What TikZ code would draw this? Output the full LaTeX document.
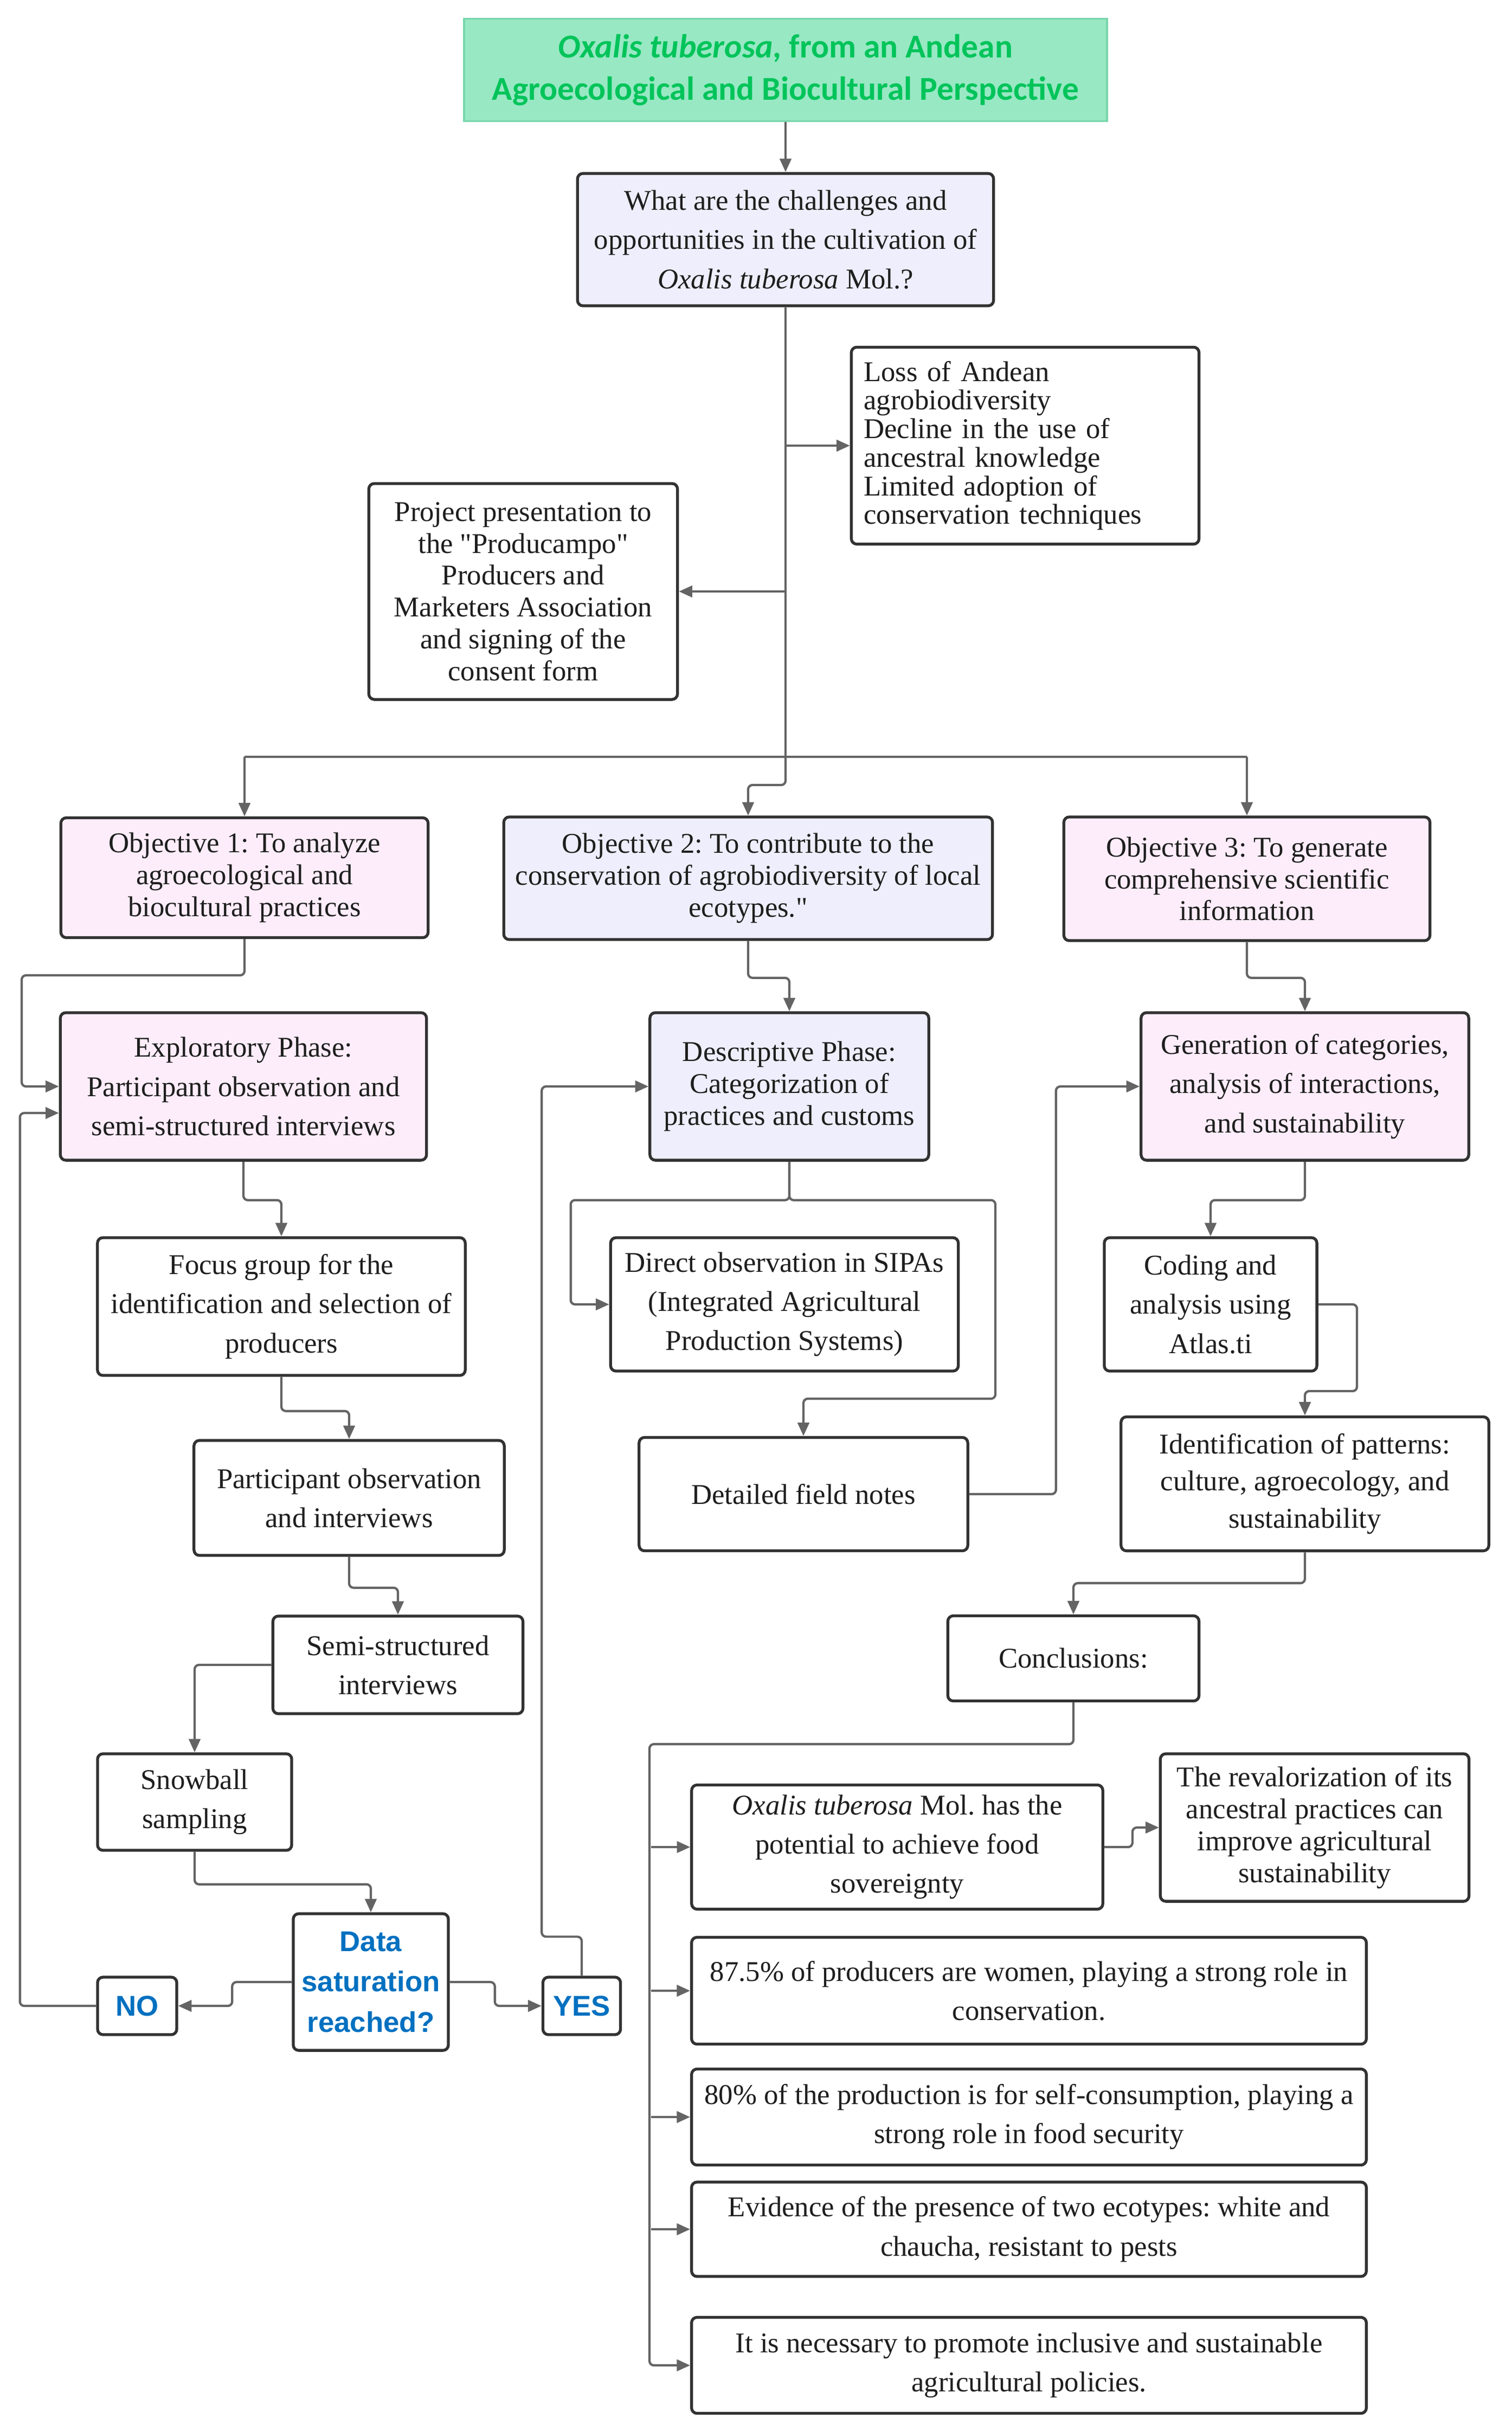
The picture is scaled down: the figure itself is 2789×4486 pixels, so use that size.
\documentclass[tikz,border=0pt]{standalone}
\usepackage{fontspec}
\setmainfont{Liberation Serif}[Ligatures=TeXOff]
\newfontfamily\titlefont{Carlito}
\newfontfamily\sansbold{Liberation Sans}
\usetikzlibrary{arrows.meta,calc}
\definecolor{lavfill}{RGB}{238,238,252}
\definecolor{pinkfill}{RGB}{253,237,250}
\definecolor{titlefill}{RGB}{152,232,196}
\definecolor{titleline}{RGB}{120,214,170}
\definecolor{titletext}{RGB}{0,196,90}
\definecolor{bluetext}{RGB}{0,112,192}
\definecolor{linec}{RGB}{100,100,100}
\definecolor{boxline}{RGB}{50,50,50}
\definecolor{textc}{RGB}{30,30,30}
\frenchspacing
\begin{document}
\begin{tikzpicture}[x=0.01cm,y=-0.01cm,
  box/.style={draw=boxline, line width=1.5pt, rounded corners=0.1cm, fill=white,
    align=center, inner sep=0pt, text=textc, font=\fontsize{15}{20.5}\selectfont},
  tight/.style={font=\fontsize{15}{16.7}\selectfont},
  lav/.style={fill=lavfill},
  pink/.style={fill=pinkfill},
  yn/.style={text=bluetext, font=\sansbold\bfseries\fontsize{15}{21.3}\selectfont},
  conn/.style={draw=linec, line width=1.2pt, rounded corners=0.08cm},
  arr/.style={conn, -{Triangle[length=7pt,width=6pt]}},
]
\useasboundingbox (0,0) rectangle (2789,4486);

% title
\node[draw=titleline, line width=1pt, fill=titlefill, minimum width=11.85cm, minimum height=1.89cm,
  align=center, text=titletext, font=\titlefont\bfseries\fontsize{17.5}{22}\selectfont]
  (title) at (1449,129) {\textit{Oxalis tuberosa}, from an Andean\\Agroecological and Biocultural Perspective};

\node[box, lav, minimum width=7.67cm, minimum height=2.44cm] (q) at (1449,442)
  {What are the challenges and\\opportunities in the cultivation of\\\textit{Oxalis tuberosa} Mol.?};

\node[box, font=\fontsize{15}{15}\selectfont, align=left, text width=5.95cm, inner xsep=0.23cm,
  minimum width=6.41cm, minimum height=3.63cm] (loss) at (1891,822)
  {Loss of Andean\\agrobiodiversity\\Decline in the use of\\ancestral knowledge\\Limited adoption of\\conservation techniques};

\node[box, tight, minimum width=5.69cm, minimum height=3.98cm] (proj) at (965,1091)
  {Project presentation to\\the "Producampo"\\Producers and\\Marketers Association\\and signing of the\\consent form};

% objectives
\node[box, pink, tight, minimum width=6.77cm, minimum height=2.21cm] (obj1) at (451,1619)
  {Objective 1: To analyze\\agroecological and\\biocultural practices};
\node[box, lav, tight, minimum width=9.01cm, minimum height=2.26cm] (obj2) at (1380,1620)
  {Objective 2: To contribute to the\\conservation of agrobiodiversity of local\\ecotypes."};
\node[box, pink, tight, minimum width=6.75cm, minimum height=2.28cm] (obj3) at (2300,1621)
  {Objective 3: To generate\\comprehensive scientific\\information};

% phases
\node[box, pink, minimum width=6.75cm, minimum height=2.72cm] (expl) at (449,2004)
  {Exploratory Phase:\\Participant observation and\\semi-structured interviews};
\node[box, lav, tight, minimum width=5.14cm, minimum height=2.72cm] (desc) at (1456,2004)
  {Descriptive Phase:\\Categorization of\\practices and customs};
\node[box, pink, minimum width=6.04cm, minimum height=2.72cm] (gen) at (2407,2004)
  {Generation of categories,\\analysis of interactions,\\and sustainability};

% left column
\node[box, minimum width=6.78cm, minimum height=2.54cm] (focus) at (519,2410)
  {Focus group for the\\identification and selection of\\producers};
\node[box, minimum width=5.72cm, minimum height=2.12cm] (po) at (644,2763)
  {Participant observation\\and interviews};
\node[box, minimum width=4.61cm, minimum height=1.80cm] (semi) at (734,3071)
  {Semi-structured\\interviews};
\node[box, minimum width=3.58cm, minimum height=1.78cm] (snow) at (359,3324)
  {Snowball\\sampling};
\node[box, yn, minimum width=2.86cm, minimum height=2.52cm] (data) at (684,3656)
  {Data\\saturation\\reached?};
\node[box, yn, minimum width=1.46cm, minimum height=1.06cm] (no) at (253,3700) {NO};
\node[box, yn, minimum width=1.43cm, minimum height=1.06cm] (yes) at (1073,3700) {YES};

% middle column
\node[box, minimum width=6.41cm, minimum height=2.46cm] (direct) at (1447,2406)
  {Direct observation in SIPAs\\(Integrated Agricultural\\Production Systems)};
\node[box, minimum width=6.06cm, minimum height=2.09cm] (detailed) at (1482,2756)
  {Detailed field notes};

% right column
\node[box, minimum width=3.92cm, minimum height=2.46cm] (coding) at (2233,2406)
  {Coding and\\analysis using\\Atlas.ti};
\node[box, font=\fontsize{15}{19.5}\selectfont, minimum width=6.78cm, minimum height=2.47cm] (ident) at (2407,2737)
  {Identification of patterns:\\culture, agroecology, and\\sustainability};
\node[box, minimum width=4.63cm, minimum height=1.57cm] (concl) at (1980,3059)
  {Conclusions:};

% conclusions
\node[box, minimum width=7.58cm, minimum height=2.29cm] (ox) at (1655,3407)
  {\textit{Oxalis tuberosa} Mol. has the\\potential to achieve food\\sovereignty};
\node[box, tight, minimum width=5.69cm, minimum height=2.72cm] (reval) at (2425,3371)
  {The revalorization of its\\ancestral practices can\\improve agricultural\\sustainability};
\node[box, minimum width=12.44cm, minimum height=1.97cm] (p875) at (1898,3672)
  {87.5\% of producers are women, playing a strong role in\\conservation.};
\node[box, minimum width=12.44cm, minimum height=1.77cm] (p80) at (1898,3905)
  {80\% of the production is for self-consumption, playing a\\strong role in food security};
\node[box, minimum width=12.44cm, minimum height=1.74cm] (evid) at (1898,4112)
  {Evidence of the presence of two ecotypes: white and\\chaucha, resistant to pests};
\node[box, minimum width=12.44cm, minimum height=1.77cm] (nec) at (1898,4363)
  {It is necessary to promote inclusive and sustainable\\agricultural policies.};

% connectors
\coordinate (hub) at (1449,1396);
\coordinate (spine) at (1201,3300);
\draw[arr] (title) -- (q);
\draw[conn] (q.south) -- (hub);
\draw[arr] (q.south |- loss.west) -- (loss.west);
\draw[arr] (q.south |- proj.east) -- (proj.east);
\draw[conn] (obj1.north |- hub) -- (obj3.north |- hub);
\draw[arr] (obj1.north |- hub) -- (obj1.north);
\draw[arr] (obj3.north |- hub) -- (obj3.north);
\draw[arr] (hub) -- ++(0,52) -| (obj2.north);

\draw[arr] (obj1.south) |- (40,1799) |- (expl.west);
\draw[arr] (obj2.south) -- ++(0,68) -| (desc.north);
\draw[arr] (obj3.south) -- ++(0,66) -| (gen.north);

\draw[arr] (expl.south) -- ++(0,71) -| (focus.north);
\draw[arr] (focus.south) -- ++(0,63) -| (po.north);
\draw[arr] (po.south) -- ++(0,57) -| (semi.north);
\draw[arr] (semi.west) -| (snow.north);
\draw[arr] (snow.south) -- ++(0,60) -| (data.north);
\draw[arr] (data.west) -- ++(-110,0) |- (no.east);
\draw[arr] (data.east) -- ++(83,0) |- (yes.west);
\draw[arr] (no.west) -| ($(expl.west)+(-72,49)$) -- ($(expl.west)+(0,49)$);
\draw[arr] (yes.north) -- ++(0,-72) -| ($(desc.west)+(-197,0)$) -- (desc.west);

\draw[arr] (desc.south) -- ++(0,71) -| ($(direct.west)+(-71,0)$) -- (direct.west);
\draw[arr] (desc.south) -- ++(0,71) -| (1836,2580) -| (detailed.north);
\draw[arr] (detailed.east) -- ++(160,0) |- (gen.west);

\draw[arr] (gen.south) -- ++(0,71) -| (coding.north);
\draw[arr] (coding.east) -| (2503,2566) -| (ident.north);
\draw[arr] (ident.south) -- ++(0,57) -| (concl.north);

\draw[arr] (concl.south) -- ++(0,77) -| ($(nec.west)+(-75,0)$) -- (nec.west);
\draw[arr] (spine |- ox.west) -- (ox.west);
\draw[arr] (spine |- p875.west) -- (p875.west);
\draw[arr] (spine |- p80.west) -- (p80.west);
\draw[arr] (spine |- evid.west) -- (evid.west);
\draw[arr] (ox.east) -- ++(52,0) |- (reval.west);
\end{tikzpicture}
\end{document}
